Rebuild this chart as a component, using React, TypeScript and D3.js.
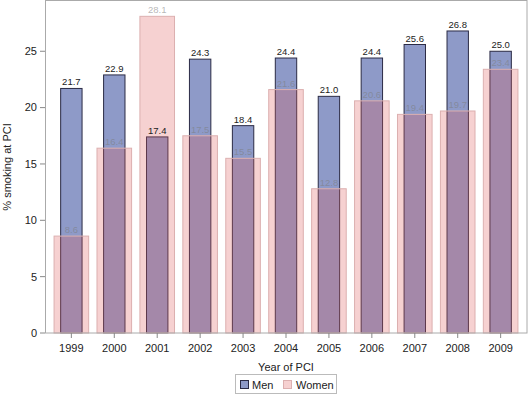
import React from "react";
import * as d3 from "d3";

const years = ["1999","2000","2001","2002","2003","2004","2005","2006","2007","2008","2009"];
const men = [21.7, 22.9, 17.4, 24.3, 18.4, 24.4, 21.0, 24.4, 25.6, 26.8, 25.0];
const women = [8.6, 16.4, 28.1, 17.5, 15.5, 21.6, 12.8, 20.6, 19.4, 19.7, 23.4];
const yTicks = [0, 5, 10, 15, 20, 25];

export default function App() {
  const W = 529, H = 395;
  const left = 45, right = 527, top = 1, bottom = 333;
  const x = d3.scalePoint<string>().domain(years).range([left, right]).padding(0.614);
  const y = d3.scaleLinear().domain([0, 29.46]).range([bottom, top]);
  const menW = 21.4, womenW = 34.6;
  const font = "'Liberation Sans', Arial, sans-serif";
  return (
    <div style={{ position: "absolute", left: 0, top: 0 }}>
      <svg width={W} height={H} style={{ display: "block", fontFamily: font }}>
        <rect x={0} y={0} width={W} height={H} fill="#fff" />
        {years.map((yr, i) => (
          <rect key={"m" + yr} x={x(yr)! - menW / 2} y={y(men[i])} width={menW} height={bottom - y(men[i])}
            fill="#8e9ac8" stroke="#2b2b45" strokeWidth={1} />
        ))}
        {years.map((yr, i) => (
          <rect key={"w" + yr} x={x(yr)! - womenW / 2} y={y(women[i])} width={womenW} height={bottom - y(women[i])}
            fill="rgb(222,88,88)" fillOpacity={0.28} stroke="#dcb0b0" strokeWidth={1} />
        ))}
        {years.map((yr, i) => (
          <text key={"ml" + yr} x={x(yr)!} y={y(men[i]) - 3} textAnchor="middle" fontSize={9.5} fill="#222">{men[i].toFixed(1)}</text>
        ))}
        {years.map((yr, i) => (
          <text key={"wl" + yr} x={x(yr)!} y={y(women[i]) - 3} textAnchor="middle" fontSize={9.5} fill="#7a7a7a" fillOpacity={0.55}>{women[i].toFixed(1)}</text>
        ))}
        <rect x={left + 0.5} y={top - 0.5} width={right - left - 0.5} height={bottom - top + 0.5} fill="none" stroke="#aaa" strokeWidth={1} />
        {yTicks.map(t => (
          <g key={"yt" + t}>
            <line x1={left - 5} x2={left} y1={y(t)} y2={y(t)} stroke="#888" />
            <text x={left - 8} y={y(t)} dy="0.35em" textAnchor="end" fontSize={11} fill="#222">{t}</text>
          </g>
        ))}
        {years.map(yr => (
          <g key={"xt" + yr}>
            <line x1={x(yr)!} x2={x(yr)!} y1={bottom} y2={bottom + 5} stroke="#888" />
            <text x={x(yr)!} y={bottom + 19} textAnchor="middle" fontSize={11} fill="#222">{yr}</text>
          </g>
        ))}
        <text x={(left + right) / 2} y={371} textAnchor="middle" fontSize={11} fill="#222">Year of PCI</text>
        <text transform={`translate(11,${(top + bottom) / 2}) rotate(-90)`} textAnchor="middle" fontSize={11} fill="#222">% smoking at PCI</text>
        <rect x={235.5} y={374.5} width={101} height={19} fill="#fff" stroke="#bbb" />
        <rect x={240.5} y={380.5} width={8} height={8} fill="#8e9ac8" stroke="#2b2b45" />
        <text x={252} y={389} fontSize={11} fill="#222">Men</text>
        <rect x={283.5} y={380.5} width={8} height={8} fill="rgb(222,88,88)" fillOpacity={0.28} stroke="#dcb0b0" />
        <text x={296} y={389} fontSize={11} fill="#222">Women</text>
      </svg>
    </div>
  );
}
